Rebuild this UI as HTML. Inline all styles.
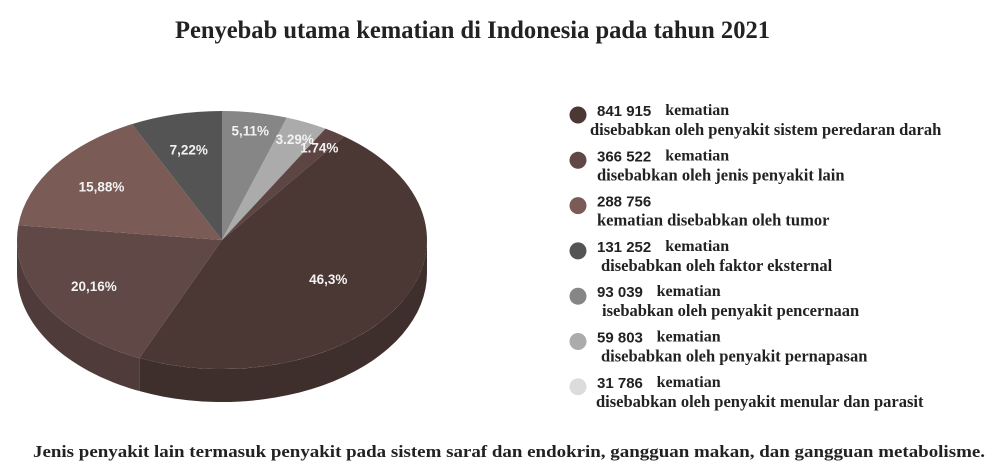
<!DOCTYPE html>
<html><head><meta charset="utf-8"><style>
html,body{margin:0;padding:0;background:#fff;}
svg{display:block;}
</style></head><body>
<svg id="chart" width="1000" height="473" viewBox="0 0 1000 473" xmlns="http://www.w3.org/2000/svg">
<rect width="1000" height="473" fill="#fff"/>
<text x="175" y="38" textLength="595" lengthAdjust="spacingAndGlyphs" font-family="Liberation Serif, serif" font-weight="bold" font-size="25" fill="#222">Penyebab utama kematian di Indonesia pada tahun 2021</text>
<g id="pie"></g>
<g id="legend"></g>
<text x="33" y="457" textLength="952" lengthAdjust="spacingAndGlyphs" font-family="Liberation Serif, serif" font-weight="bold" font-size="17" fill="#222">Jenis penyakit lain termasuk penyakit pada sistem saraf dan endokrin, gangguan makan, dan gangguan metabolisme.</text>
</svg>
<script>
// slices clockwise from 12 o'clock
const sliceLabels = ["5,11%","3.29%","1.74%","46,3%","20,16%","15,88%","7,22%"];
const sliceValues = [5.11, 3.29, 1.74, 46.3, 20.16, 15.88, 7.22];
const sliceColors = ["#868686","#ababab","#5c4542","#4b3835","#5f4845","#7b5b56","#555454"];
const sideColors  = ["#6e6e6e","#939393","#4a3735","#3e2e2c","#4f3b39","#664a46","#444"];
const legendNumbers = ["841 915","366 522","288 756","131 252","93 039","59 803","31 786"];
const legendLine1 = ["kematian","kematian","","kematian","kematian","kematian","kematian"];
const legendLine2 = ["disebabkan oleh penyakit sistem peredaran darah","disebabkan oleh jenis penyakit lain","kematian disebabkan oleh tumor","disebabkan oleh faktor eksternal","isebabkan oleh penyakit pencernaan","disebabkan oleh penyakit pernapasan","disebabkan oleh penyakit menular dan parasit"];
const legendColors = ["#4b3835","#5f4845","#7b5b56","#555454","#868686","#ababab","#dcdcdc"];

const NS="http://www.w3.org/2000/svg";
const cx=222, cy=240, rx=205, ry=129, depth=33;
const total=sliceValues.reduce((a,b)=>a+b,0);
function pt(a,dy){return [cx+rx*Math.cos(a), cy+ry*Math.sin(a)+(dy||0)];}
const pie=document.getElementById('pie');
let angles=[]; let a=-Math.PI/2;
sliceValues.forEach(v=>{const b=a+v/total*2*Math.PI; angles.push([a,b]); a=b;});
// sides
angles.forEach(([s,e],i)=>{
  let segs=[[0,Math.PI],[2*Math.PI,3*Math.PI]];
  segs.forEach(([lo,hi])=>{
    const s2=Math.max(s,lo), e2=Math.min(e,hi);
    if(e2<=s2) return;
    const p1=pt(s2),p2=pt(e2),p3=pt(e2,depth),p4=pt(s2,depth);
    const large=(e2-s2)>Math.PI?1:0;
    const d=`M${p1[0]},${p1[1]} A${rx},${ry} 0 ${large} 1 ${p2[0]},${p2[1]} L${p3[0]},${p3[1]} A${rx},${ry} 0 ${large} 0 ${p4[0]},${p4[1]} Z`;
    const el=document.createElementNS(NS,'path');
    el.setAttribute('d',d); el.setAttribute('fill',sideColors[i]);
    
    
    pie.appendChild(el);
  });
});
// tops
angles.forEach(([s,e],i)=>{
  const p1=pt(s),p2=pt(e); const large=(e-s)>Math.PI?1:0;
  const el=document.createElementNS(NS,'path');
  el.setAttribute('d',`M${cx},${cy} L${p1[0]},${p1[1]} A${rx},${ry} 0 ${large} 1 ${p2[0]},${p2[1]} Z`);
  el.setAttribute('fill',sliceColors[i]);
  
  
  pie.appendChild(el);
});
// labels
angles.forEach(([s,e],i)=>{
  const m=(s+e)/2; const small=sliceValues[i]<6;
  const f=sliceValues[i]>30?0.6:(small?0.86:0.72);
  const x=cx+rx*f*Math.cos(m), y=cy+ry*f*Math.sin(m);
  const t=document.createElementNS(NS,'text');
  t.setAttribute('x',x); t.setAttribute('y',y+5);
  t.setAttribute('text-anchor','middle');
  t.setAttribute('font-family','Liberation Sans, sans-serif');
  t.setAttribute('font-weight','bold'); t.setAttribute('font-size','13.5');
  t.setAttribute('fill','#f2f2f2');
  t.textContent=sliceLabels[i];
  
  
  pie.appendChild(t);
});
// legend
const lg=document.getElementById('legend');
legendNumbers.forEach((n,i)=>{
  const y=113+i*45.3;
  const c=document.createElementNS(NS,'circle');
  c.setAttribute('cx',578); c.setAttribute('cy',y+2); c.setAttribute('r',8.5);
  c.setAttribute('fill',legendColors[i]);
  
  
  lg.appendChild(c);
  const t=document.createElementNS(NS,'text');
  t.setAttribute('x',597); t.setAttribute('y',y+3);
  t.setAttribute('font-family','Liberation Sans, sans-serif');
  t.setAttribute('font-weight','bold'); t.setAttribute('font-size','15'); t.setAttribute('fill','#222');
  t.textContent=n;
  
  
  lg.appendChild(t);
  if(legendLine1[i]){
    const k=document.createElementNS(NS,'text');
    k.setAttribute('x',597+n.length*8.6+8); k.setAttribute('y',y+2);
    k.setAttribute('font-family','Liberation Serif, serif');
    k.setAttribute('font-weight','bold'); k.setAttribute('font-size','16'); k.setAttribute('fill','#222');
    k.textContent=legendLine1[i];
    
    
    lg.appendChild(k);
  }
  const l2=document.createElementNS(NS,'text');
  const xs=[590,597,597,601,602,601,596];
  l2.setAttribute('x',xs[i]); l2.setAttribute('y',y+22);
  l2.setAttribute('font-family','Liberation Serif, serif');
  l2.setAttribute('font-weight','bold'); l2.setAttribute('font-size','16.5'); l2.setAttribute('fill','#222');
  l2.textContent=legendLine2[i];
  
  
  lg.appendChild(l2);
});
</script>
</body></html>
